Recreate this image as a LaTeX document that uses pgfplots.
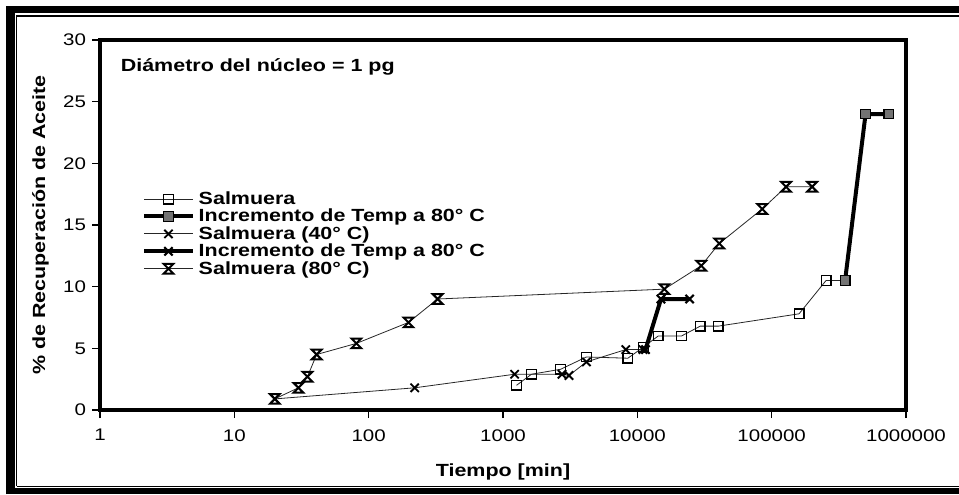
\documentclass[border=0pt]{standalone}
\usepackage{fontspec}
\setmainfont{Liberation Sans}[FakeStretch=1.22]
\usepackage{pgfplots}
\pgfplotsset{compat=1.18}
\pgfdeclareplotmark{hourglass}{%
  \pgfpathmoveto{\pgfqpoint{-\pgfplotmarksize}{\pgfplotmarksize}}%
  \pgfpathlineto{\pgfqpoint{\pgfplotmarksize}{\pgfplotmarksize}}%
  \pgfpathlineto{\pgfqpoint{-\pgfplotmarksize}{-\pgfplotmarksize}}%
  \pgfpathlineto{\pgfqpoint{\pgfplotmarksize}{-\pgfplotmarksize}}%
  \pgfpathclose
  \pgfusepathqstroke}
\begin{document}
\begin{tikzpicture}
\useasboundingbox (0,0) rectangle (719.25pt,370.5pt);
% frame
\draw[line width=6.75pt] (7.875pt,0pt) -- (7.875pt,366pt);
\draw[line width=5.25pt] (4.5pt,363.375pt) -- (719.25pt,363.375pt);
\draw[line width=4.5pt] (4.5pt,2.25pt) -- (719.25pt,2.25pt);
\draw[line width=1.2pt] (12.375pt,6pt) -- (12.375pt,358.5pt) -- (719.25pt,358.5pt);
\draw[line width=1.2pt] (12.375pt,5.625pt) -- (719.25pt,5.625pt);
\begin{axis}[
  at={(75pt,63pt)}, anchor=south west,
  scale only axis, width=604.5pt, height=277.5pt,
  xmode=log, xmin=1, xmax=1000000, ymin=0, ymax=30,
  xtick={1,10,100,1000,10000,100000,1000000},
  xticklabels={1,10,100,1000,10000,100000,1000000},
  ytick={0,5,10,15,20,25,30},
  yticklabels={0,5,10,15,20,25,30},
  xminorticks=false, yminorticks=false,
  tick align=outside, xtick pos=left, ytick pos=left,
  major tick length=6pt,
  tick style={black, line width=0.8pt},
  axis line style={line width=3.6pt},
  tick label style={font=\fontsize{12.6}{14}\selectfont},
  xticklabel style={yshift=-5pt},
  yticklabel style={xshift=-1pt},
  xlabel={\textbf{Tiempo [min]}},
  ylabel={\textbf{\% de Recuperación de Aceite}},
  label style={font=\fontsize{13.2}{15}\selectfont},
  xlabel style={yshift=-10pt},
  ylabel style={yshift=4pt},
  legend cell align=left,
  legend style={draw=none, fill=none, at={(0.052,0.598)}, anchor=north west,
    font=\fontsize{13.2}{14}\selectfont\bfseries, row sep=-2pt, inner sep=0pt,
    /tikz/every odd column/.append style={column sep=1pt}},
  legend image code/.code={%
    \draw[mark repeat=2,mark phase=2,#1] plot coordinates {(0cm,0cm) (0.64cm,0cm) (1.28cm,0cm)};},
]
\node[anchor=west, font=\fontsize{13.2}{15}\selectfont\bfseries] at (rel axis cs:0.02,0.927) {Diámetro del núcleo = 1 pg};
\addplot[black!85, line width=0.6pt, mark=square, mark size=3.6pt, mark options={solid, black, line width=1pt, fill=white}]
 coordinates {(1260,2.0) (1630,2.9) (2680,3.3) (4180,4.3) (8500,4.2) (11100,5.1) (14300,6.0) (21300,6.0) (29400,6.8) (40000,6.8) (160000,7.8) (254000,10.5) (352000,10.5)};
\addlegendentry{Salmuera}
\addplot[black, line width=3pt, mark=square*, mark size=3.6pt, mark options={solid, draw=black, fill=black!55, line width=1pt}]
 coordinates {(352000,10.5) (500000,24.0) (745000,24.0)};
\addlegendentry{Incremento de Temp a 80° C}
\addplot[black!85, line width=0.6pt, mark=x, mark size=4.4pt, mark options={solid, black, line width=1.4pt}]
 coordinates {(20,0.9) (220,1.8) (1220,2.9) (2750,2.9) (3100,2.8) (4180,3.9) (8200,4.9) (11000,4.9)};
\addlegendentry{Salmuera (40° C)}
\addplot[black, line width=3pt, mark=x, mark size=4.4pt, mark options={solid, black, line width=1.6pt}]
 coordinates {(11500,4.9) (15000,9.0) (24500,9.0)};
\addlegendentry{Incremento de Temp a 80° C}
\addplot[black!85, line width=0.6pt, mark=hourglass, mark size=3.6pt, mark options={solid, black, line width=1.5pt}]
 coordinates {(20,0.9) (30,1.8) (35,2.7) (41,4.5) (81,5.4) (198,7.1) (326,9.0) (15900,9.8) (29900,11.7) (40700,13.5) (85000,16.3) (128000,18.1) (200000,18.1)};
\addlegendentry{Salmuera (80° C)}
\end{axis}
\end{tikzpicture}
\end{document}
